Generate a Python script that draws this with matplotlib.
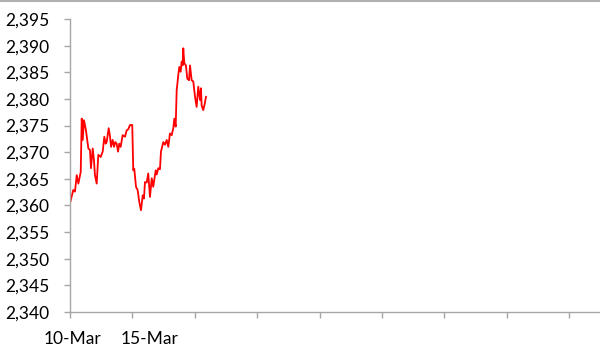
import matplotlib.pyplot as plt
from matplotlib.lines import Line2D
from matplotlib.ticker import FuncFormatter, NullFormatter
import numpy as np

# days since 10-Mar and index level
days = [0.00, 0.26, 0.40, 0.54, 0.67, 0.86, 0.94, 1.02, 1.12, 1.28, 1.47, 1.60, 1.68,
        1.82, 1.92, 2.00, 2.14, 2.27, 2.46, 2.62, 2.75, 2.86, 2.94, 3.10, 3.21, 3.29,
        3.42, 3.53, 3.63, 3.74, 3.85, 3.95, 4.06, 4.22, 4.41, 4.54, 4.67, 4.81, 4.99,
        5.07, 5.15, 5.29, 5.42, 5.55, 5.69, 5.83, 5.93, 6.01, 6.15, 6.27, 6.41, 6.55,
        6.67, 6.87, 6.95, 7.08, 7.21, 7.29, 7.48, 7.61, 7.75, 7.88, 8.01, 8.15, 8.28,
        8.36, 8.47, 8.55, 8.68, 8.76, 8.87, 8.95, 9.03, 9.08, 9.16, 9.29, 9.40, 9.54,
        9.62, 9.75, 9.88, 10.02, 10.15, 10.28, 10.42, 10.50, 10.55, 10.68, 10.79, 10.90]
level = [2360.4, 2362.9, 2362.6, 2365.7, 2364.1, 2366.3, 2376.3, 2372.3, 2376.0, 2374.1,
         2370.7, 2370.4, 2367.0, 2370.7, 2368.5, 2365.7, 2364.1, 2369.5, 2369.1, 2370.1,
         2372.9, 2371.6, 2371.9, 2374.5, 2372.9, 2371.0, 2372.3, 2371.0, 2371.9, 2371.6,
         2370.1, 2371.6, 2371.0, 2373.2, 2372.9, 2374.1, 2374.3, 2375.1, 2375.1, 2366.6,
         2366.9, 2363.5, 2362.9, 2360.7, 2359.1, 2361.9, 2361.3, 2364.4, 2364.3, 2366.0,
         2361.6, 2365.1, 2363.5, 2366.6, 2365.8, 2367.0, 2366.8, 2370.1, 2371.9, 2371.4,
         2372.3, 2371.0, 2373.5, 2373.2, 2374.5, 2376.3, 2374.8, 2381.6, 2384.5, 2386.0,
         2385.1, 2387.0, 2386.3, 2389.5, 2386.7, 2386.3, 2383.8, 2383.5, 2386.3, 2383.5,
         2383.3, 2380.4, 2378.5, 2382.3, 2379.8, 2382.0, 2378.8, 2377.9, 2379.0, 2380.4]

tick_days = [0, 5, 10, 15, 20, 25, 30, 35, 40]
label_days = [0.2, 6.4]
tick_labels = ["10-Mar", "15-Mar"]

plt.rcParams['font.family'] = ['Lato', 'DejaVu Sans']

fig = plt.figure(figsize=[6, 3.47], dpi=100)
ax = fig.add_axes([70/600, 35/347, 529/600, 293/347])

ax.plot(days, level, color="#ff0000", lw=1.3)

ax.set_xlim(0, 42.4)
ax.set_ylim(2340, 2395)
ax.set_yticks(np.arange(2340, 2396, 5))
ax.yaxis.set_major_formatter(FuncFormatter(lambda v, p: f"{v:,.0f}"))

# tick marks every 5 days, labels set slightly apart like the spreadsheet layout
ax.set_xticks(tick_days)
ax.xaxis.set_major_formatter(NullFormatter())
ax.set_xticks(label_days, minor=True)
ax.set_xticklabels(tick_labels, minor=True)

for side in ["top", "right"]:
    ax.spines[side].set_visible(False)
for side in ["left", "bottom"]:
    ax.spines[side].set_color("#a6a6a6")
    ax.spines[side].set_linewidth(1.0)
ax.tick_params(axis="both", which="major", direction="out", length=4, width=1,
               color="#a6a6a6", labelsize=12.5, labelcolor="black")
ax.tick_params(axis="y", pad=11)
ax.tick_params(axis="x", which="minor", length=0, pad=14, labelsize=12.5,
               labelcolor="black")

fig.add_artist(Line2D([0, 1], [1 - 1/347, 1 - 1/347], color="#b0b0b0", lw=1.5,
                      transform=fig.transFigure))

fig.savefig("out.png", dpi=100)
